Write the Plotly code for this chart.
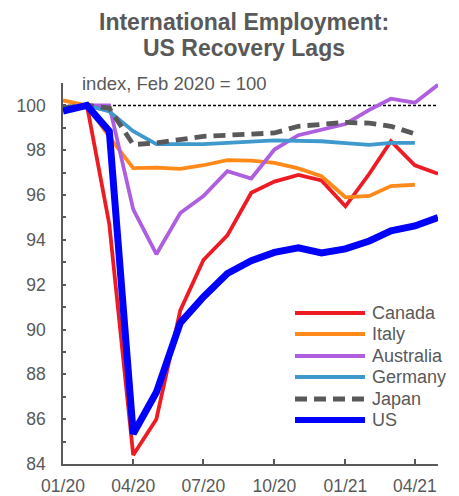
import plotly.graph_objects as go

months = ["2020-01-01", "2020-02-01", "2020-03-01", "2020-04-01", "2020-05-01",
          "2020-06-01", "2020-07-01", "2020-08-01", "2020-09-01", "2020-10-01",
          "2020-11-01", "2020-12-01", "2021-01-01", "2021-02-01", "2021-03-01",
          "2021-04-01", "2021-05-01"]

canada = [99.9, 100.0, 94.7, 84.4, 86.0, 90.85, 93.1, 94.2, 96.1, 96.6, 96.9,
          96.65, 95.5, 96.95, 98.4, 97.33, 96.95]
italy = [100.22, 100.0, 98.6, 97.2, 97.22, 97.17, 97.33, 97.56, 97.54, 97.44,
         97.19, 96.84, 95.9, 95.96, 96.4, 96.46]
australia = [99.9, 100.0, 100.0, 95.36, 93.36, 95.2, 95.96, 97.07, 96.74, 98.03,
             98.67, 98.92, 99.17, 99.8, 100.3, 100.12, 100.92]
germany = [99.8, 100.0, 99.73, 98.85, 98.27, 98.27, 98.27, 98.33, 98.4, 98.44,
           98.42, 98.4, 98.32, 98.24, 98.33, 98.33]
japan = [99.9, 100.0, 99.88, 98.25, 98.33, 98.5, 98.62, 98.67, 98.7, 98.77,
         99.07, 99.14, 99.24, 99.21, 99.07, 98.73]
us = [99.75, 100.0, 98.85, 85.35, 87.2, 90.3, 91.45, 92.5, 93.07, 93.44, 93.65,
      93.42, 93.6, 93.95, 94.4, 94.62, 95.0]

names = ["Canada", "Italy", "Australia", "Germany", "Japan", "US"]
data = [canada, italy, australia, germany, japan, us]
colors = ["#ED1C24", "#FF8A1A", "#AE5FE0", "#3F99CC", "#595959", "#0000FF"]
widths = [3.8, 3.8, 3.8, 3.8, 4.8, 7]
dashes = ["solid", "solid", "solid", "solid", "12px,7px", "solid"]

x_ticks = ["2020-01-01", "2020-04-01", "2020-07-01", "2020-10-01", "2021-01-01", "2021-04-01"]
x_tick_labels = ["01/20", "04/20", "07/20", "10/20", "01/21", "04/21"]
y_ticks = [84, 86, 88, 90, 92, 94, 96, 98, 100]

title_lines = ["International Employment:", "US Recovery Lags"]
subtitle = "index, Feb 2020 = 100"

GRAY = "#595959"
FONT = "Liberation Sans, Arial, sans-serif"

W, H = 459, 496
L, R, T, B = 63, 21, 83, 32
pw, ph = W - L - R, H - T - B


def px(x):
    return (x - L) / pw


def py(y):
    return (H - B - y) / ph


fig = go.Figure()
for n, d, c, w, ds in zip(names, data, colors, widths, dashes):
    fig.add_trace(go.Scatter(x=months[:len(d)], y=d, mode="lines", name=n,
                             line=dict(color=c, width=w, dash=ds),
                             showlegend=False))

shapes = [dict(type="line", xref="paper", yref="y", x0=0, x1=1, y0=100, y1=100,
               line=dict(color="black", width=1.5, dash="3px,2px"), layer="below")]
annotations = []
for t, yy in zip(title_lines, [22, 48]):
    annotations.append(dict(text="<b>" + t + "</b>", xref="paper", yref="paper",
                            x=px(244), y=py(yy), xanchor="center", yanchor="middle",
                            showarrow=False, font=dict(size=23, color=GRAY, family=FONT)))
annotations.append(dict(text=subtitle, xref="paper", yref="paper",
                        x=px(80), y=py(84), xanchor="left", yanchor="middle", showarrow=False,
                        font=dict(size=18.5, color=GRAY, family=FONT)))

leg_y = [313, 334, 356, 377, 399, 420]
for n, c, w, ds, yy in zip(names, colors, widths, dashes, leg_y):
    shapes.append(dict(type="line", xref="paper", yref="paper", x0=px(295), x1=px(365),
                       y0=py(yy), y1=py(yy),
                       line=dict(color=c, width=6 if n == "US" else w, dash=ds)))
    annotations.append(dict(text=n, xref="paper", yref="paper", x=px(370), y=py(yy),
                            xanchor="left", yanchor="middle", showarrow=False,
                            font=dict(size=18, color=GRAY, family=FONT)))

fig.update_layout(
    width=W, height=H,
    margin=dict(l=L, r=R, t=T, b=B, autoexpand=False),
    paper_bgcolor="white", plot_bgcolor="white",
    shapes=shapes, annotations=annotations,
    font=dict(family=FONT, color=GRAY),
    xaxis=dict(type="date", range=["2020-01-01", "2021-05-01"],
               tickvals=x_ticks, ticktext=x_tick_labels, automargin=False,
               ticks="inside", ticklen=5, tickwidth=1.5, tickcolor=GRAY,
               showline=True, linecolor=GRAY, linewidth=1.5,
               showgrid=False, zeroline=False, ticklabelstandoff=5,
               tickfont=dict(size=17.5, color=GRAY, family=FONT)),
    yaxis=dict(range=[84, 101], tickvals=y_ticks, automargin=False,
               ticks="inside", ticklen=3, tickwidth=1.5, tickcolor=GRAY,
               minor=dict(dtick=1, tick0=84, ticks="inside", ticklen=3, tickcolor=GRAY, tickwidth=1.5,
                          showgrid=False),
               showline=True, linecolor=GRAY, linewidth=1.5,
               showgrid=False, zeroline=False, ticklabelstandoff=12,
               tickfont=dict(size=17.5, color=GRAY, family=FONT)),
)

fig.write_html("out.html")
